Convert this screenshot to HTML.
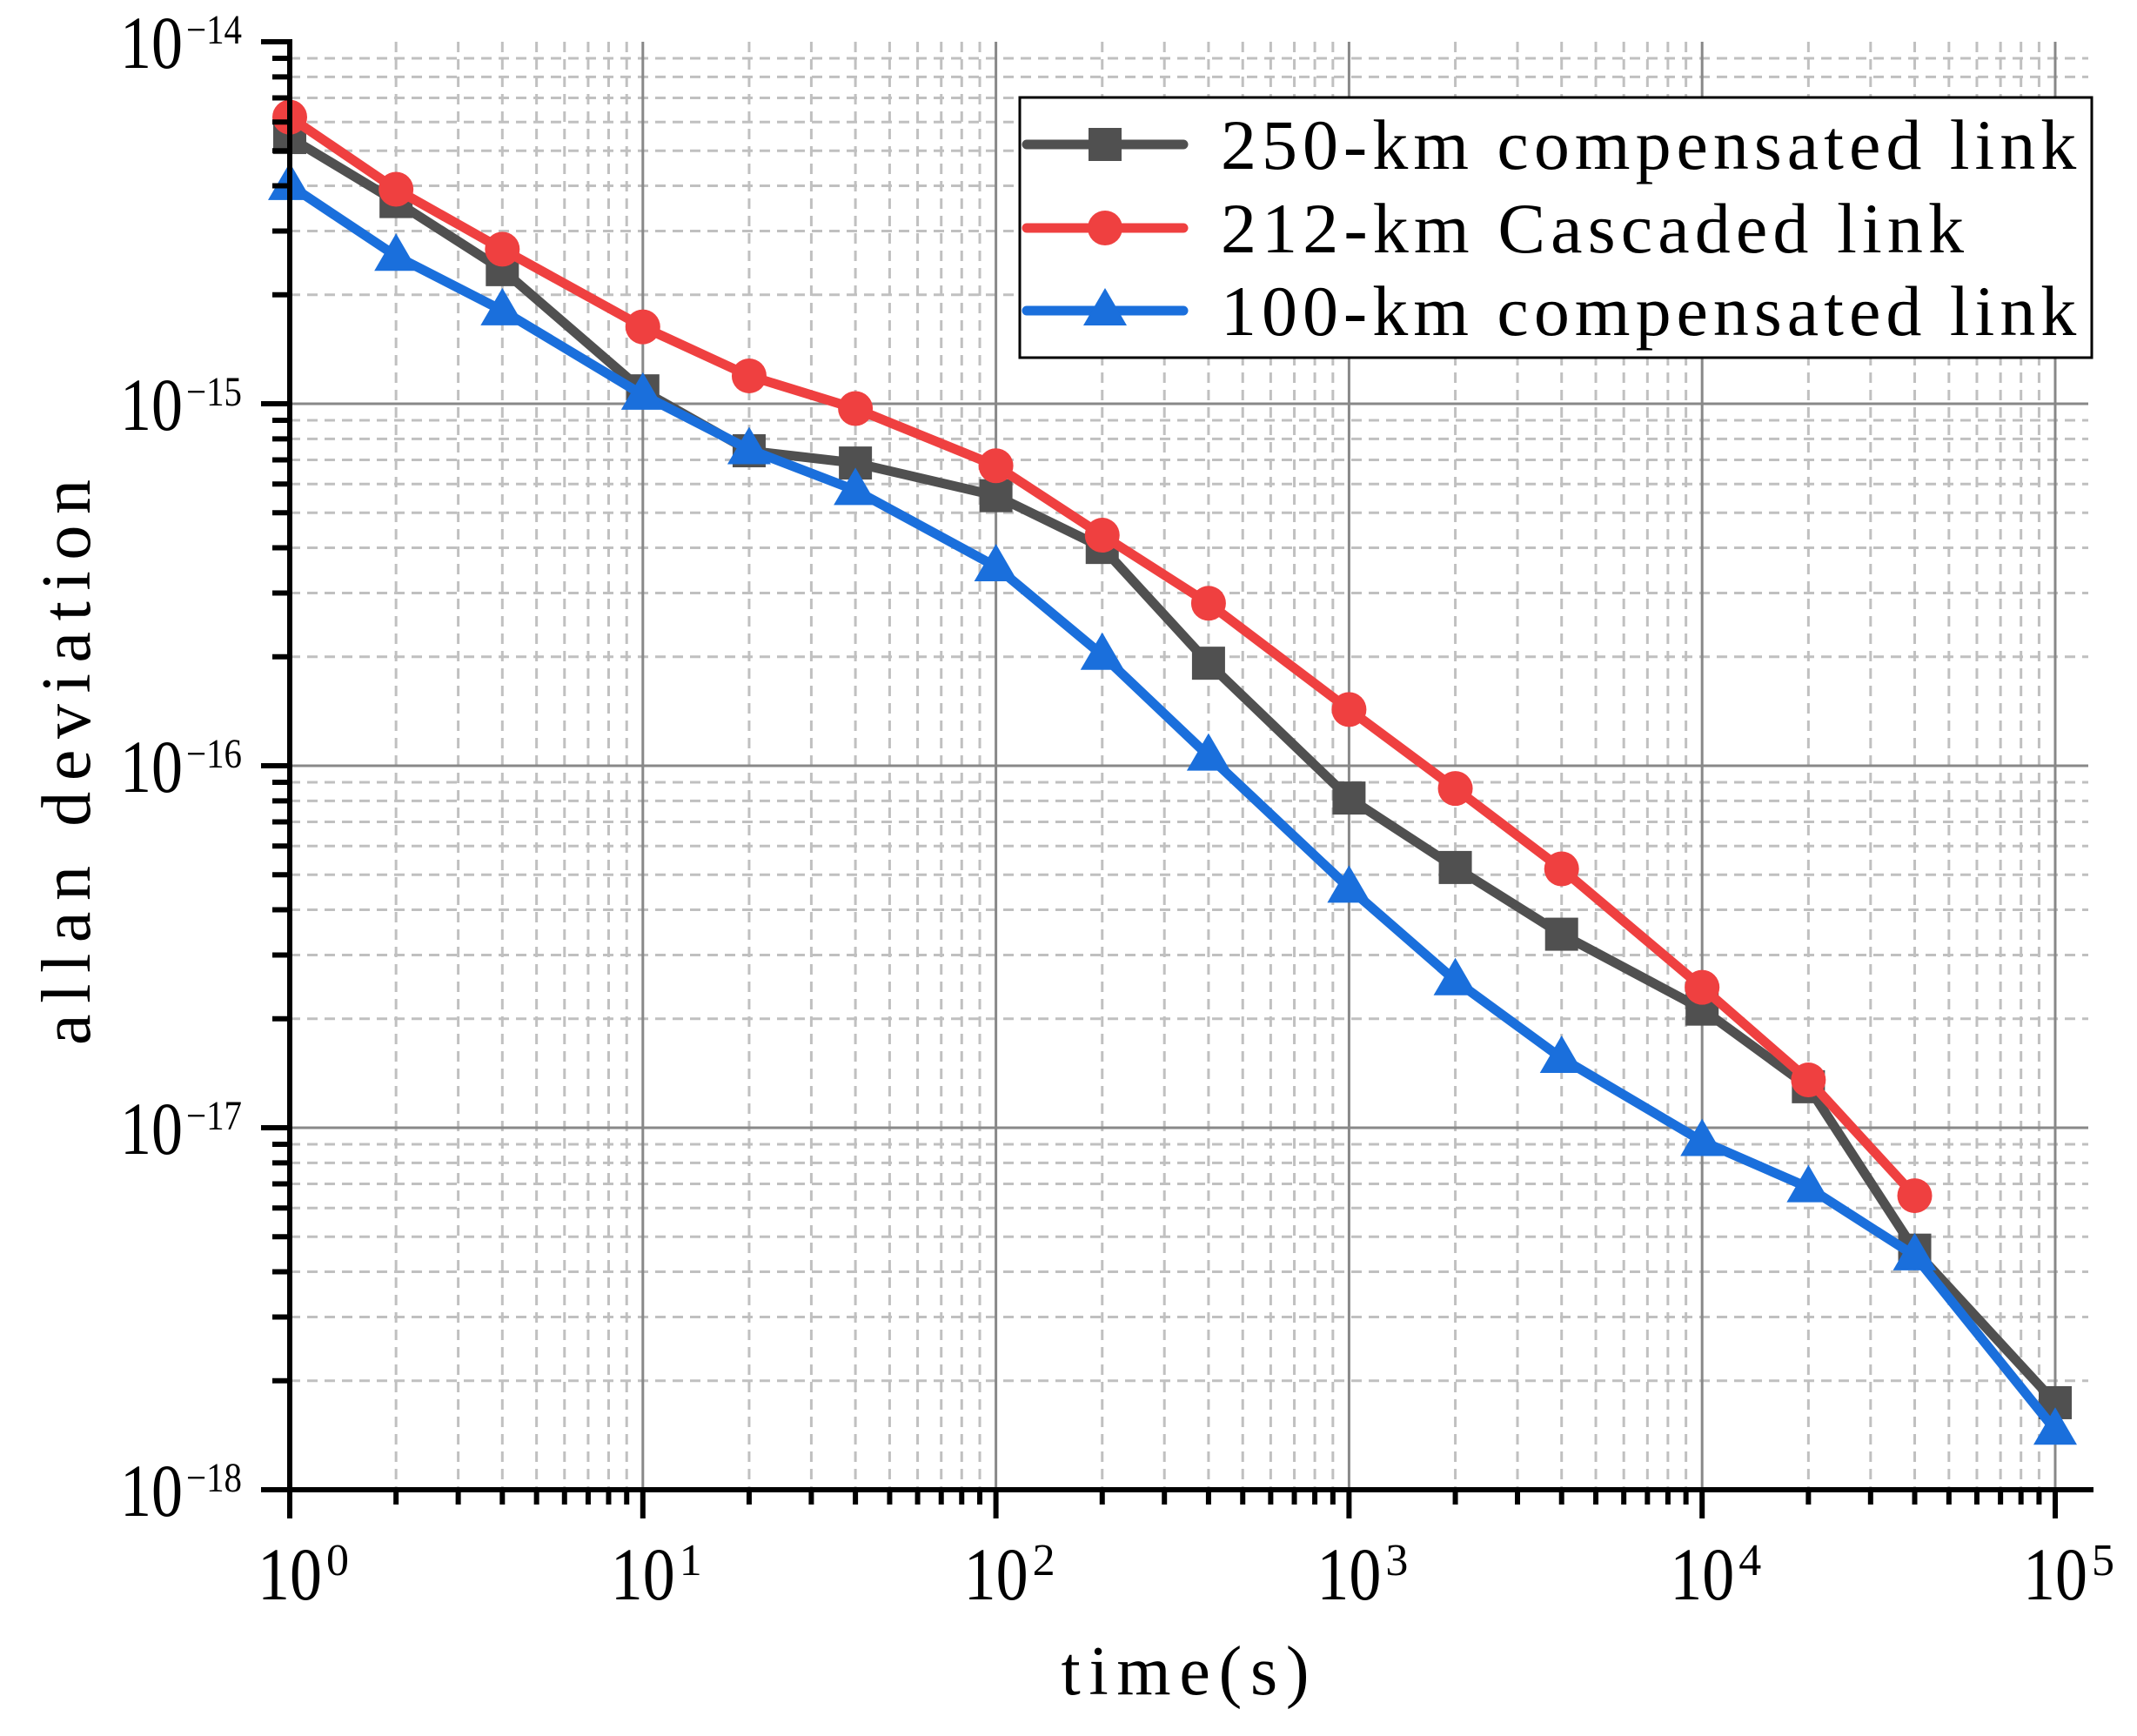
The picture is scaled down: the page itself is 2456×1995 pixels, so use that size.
<!DOCTYPE html>
<html><head><meta charset="utf-8"><style>
html,body{margin:0;padding:0;background:#fff;}
svg{display:block;}
</style></head><body>
<svg id="s" xmlns="http://www.w3.org/2000/svg" width="2456" height="1995" viewBox="0 0 2456 1995">
<rect width="2456" height="1995" fill="#fff"/>
<g id="grid"></g>
<g id="series"></g>
<g id="axes"></g>
<g id="legend"></g>
<text x="1362" y="1947" font-family="Liberation Serif, serif" font-size="80" text-anchor="middle" textLength="285" lengthAdjust="spacing">time(s)</text>
<text transform="translate(103,876) rotate(-90)" font-family="Liberation Serif, serif" font-size="80" text-anchor="middle" textLength="650" lengthAdjust="spacing">allan deviation</text>
</svg>
<script>
const NS="http://www.w3.org/2000/svg";
const X0=333,XD=405.8,Y0=48,YD=416,XR=2406;
function X(v){return X0+Math.log10(v)*XD;}
function Y(v){return Y0+(-14-Math.log10(v))*YD;}
function el(p,t,a,txt){const e=document.createElementNS(NS,t);for(const k in a)e.setAttribute(k,a[k]);if(txt!==undefined)e.textContent=txt;p.appendChild(e);return e;}
const g=document.getElementById('grid'),ax=document.getElementById('axes'),se=document.getElementById('series'),lg=document.getElementById('legend');
for(let d=0;d<5;d++)for(let m=2;m<=9;m++){const x=X(m*Math.pow(10,d));el(g,'line',{x1:x,x2:x,y1:Y0,y2:1712,stroke:'#c0c0c0','stroke-width':3,'stroke-dasharray':'12,8'});}
for(let d=-18;d<-14;d++)for(let m=2;m<=9;m++){const y=Y(m*Math.pow(10,d));el(g,'line',{x1:X0,x2:2400,y1:y,y2:y,stroke:'#c0c0c0','stroke-width':3,'stroke-dasharray':'12,8'});}
for(let d=1;d<=5;d++){const x=X(Math.pow(10,d));el(g,'line',{x1:x,x2:x,y1:Y0,y2:1712,stroke:'#888','stroke-width':3});}
for(let d=-17;d<=-15;d++){const y=Y(Math.pow(10,d));el(g,'line',{x1:X0,x2:2400,y1:y,y2:y,stroke:'#888','stroke-width':3});}
el(ax,'line',{x1:X0,x2:X0,y1:Y0-3,y2:1745,stroke:'#000','stroke-width':6});
el(ax,'line',{x1:300,x2:XR,y1:1712,y2:1712,stroke:'#000','stroke-width':6});
const SF='Liberation Serif, serif';
for(let d=0;d<=5;d++){const x=X(Math.pow(10,d));el(ax,'line',{x1:x,x2:x,y1:1712,y2:1745,stroke:'#000','stroke-width':6});
 el(ax,'text',{x:x-37,y:1838,'font-family':SF,'font-size':86,textLength:74,lengthAdjust:'spacingAndGlyphs'},'10');
 el(ax,'text',{x:x+42,y:1810,'font-family':SF,'font-size':52},String(d));
 if(d<5)for(let m=2;m<=9;m++){const xm=X(m*Math.pow(10,d));el(ax,'line',{x1:xm,x2:xm,y1:1712,y2:1729,stroke:'#000','stroke-width':6});}}
for(let d=-18;d<=-14;d++){const y=Y(Math.pow(10,d));el(ax,'line',{x1:300,x2:X0,y1:y,y2:y,stroke:'#000','stroke-width':6});
 el(ax,'text',{x:214,y:y+2,'font-family':SF,'font-size':48,textLength:64,lengthAdjust:'spacingAndGlyphs'},'\u2212'+(-d));
 el(ax,'text',{x:138,y:y+30,'font-family':SF,'font-size':86,textLength:72,lengthAdjust:'spacingAndGlyphs'},'10');
 if(d<-14)for(let m=2;m<=9;m++){const ym=Y(m*Math.pow(10,d));el(ax,'line',{x1:313,x2:X0,y1:ym,y2:ym,stroke:'#000','stroke-width':6});}}
const F=1.565;
const xs=[1,2,4,10,20,40,100,200,400,1000,2000,4000,1e4,2e4,4e4,1e5];
const gray=[101,148,198,287,331,340,364,402,487,586,637,686,741,798,918,1030];
const red=[86,139,183,240,276,300,342,393,443,521,579,638,725,793,878];
const blue=[136,188,228,290,330,360,416,481,555,652,720,777,838,872,922,1050];
function marker(p,type,x,y,c){
 if(type=='s')el(p,'rect',{x:x-19,y:y-19,width:38,height:38,fill:c});
 else if(type=='c')el(p,'circle',{cx:x,cy:y,r:20,fill:c});
 else el(p,'polygon',{points:`${x},${y-26} ${x+25},${y+17} ${x-25},${y+17}`,fill:c});}
function series(ys,c,type){const pts=ys.map((y,i)=>[X(xs[i]),y*F]);
 el(se,'polyline',{points:pts.map(p=>p.join(',')).join(' '),fill:'none',stroke:c,'stroke-width':11,'stroke-linejoin':'round'});
 pts.forEach(p=>marker(se,type,p[0],p[1],c));}
series(gray,'#505050','s');series(red,'#ef4040','c');series(blue,'#1a6fdc','t');
el(lg,'rect',{x:1172,y:112,width:1232,height:299,fill:'#fff',stroke:'#000','stroke-width':3});
const L=[['250-km compensated link','#505050','s',166],['212-km Cascaded link','#ef4040','c',262],['100-km compensated link','#1a6fdc','t',357]];
L.forEach(([t,c,m,y])=>{el(lg,'line',{x1:1180,x2:1360,y1:y,y2:y,stroke:c,'stroke-width':11,'stroke-linecap':'round'});
 marker(lg,m,1270,y,c);
 el(lg,'text',{x:1403,y:y+28,'font-family':SF,'font-size':82,textLength:(t.length*43.1-8),lengthAdjust:'spacing'},t);});
</script>
</body></html>
